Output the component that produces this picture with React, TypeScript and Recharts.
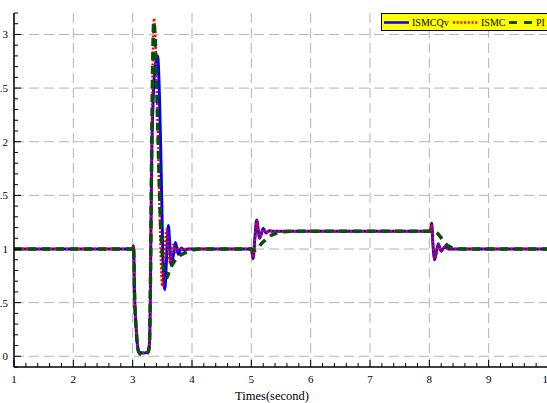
import { LineChart, Line, XAxis, YAxis, CartesianGrid, Label } from "recharts";

const xMajor = [1, 2, 3, 4, 5, 6, 7, 8, 9, 10];
const yMajor = [0, 0.5, 1, 1.5, 2, 2.5, 3];

// [time, value]
const ismcqv: [number, number][] = [
  [1, 1], [3.0, 1], [3.01, 1.03], [3.02, 0.95], [3.03, 0.62], [3.06, 0.25], [3.09, 0.07],
  [3.12, 0.035], [3.18, 0.03], [3.25, 0.04], [3.28, 0.1], [3.295, 0.4], [3.305, 1.0],
  [3.32, 1.8], [3.35, 2.45], [3.38, 2.7], [3.42, 2.8], [3.45, 2.45], [3.47, 2.0],
  [3.49, 1.45], [3.52, 0.72], [3.54, 0.62], [3.57, 0.9], [3.6, 1.22], [3.625, 1.05],
  [3.65, 0.85], [3.68, 0.92], [3.72, 1.06], [3.77, 0.95], [3.82, 1.01], [3.87, 0.99],
  [3.93, 1.0], [5.0, 1.0], [5.03, 0.91], [5.06, 1.1], [5.09, 1.27], [5.14, 1.1],
  [5.2, 1.19], [5.25, 1.15], [5.3, 1.17], [5.36, 1.165], [8.02, 1.165], [8.04, 1.24],
  [8.06, 1.05], [8.09, 0.9], [8.15, 1.05], [8.2, 0.98], [8.26, 1.02], [8.32, 1.0], [10, 1],
];

const ismc: [number, number][] = [
  [1, 1], [3.0, 1], [3.01, 1.03], [3.02, 0.95], [3.03, 0.62], [3.06, 0.25], [3.09, 0.07],
  [3.12, 0.035], [3.18, 0.03], [3.25, 0.04], [3.28, 0.1], [3.3, 0.8], [3.32, 1.9],
  [3.34, 2.8], [3.36, 3.15], [3.38, 3.0], [3.41, 2.4], [3.44, 1.7], [3.47, 1.0],
  [3.5, 0.65], [3.53, 0.85], [3.57, 1.18], [3.6, 1.02], [3.63, 0.87], [3.68, 1.04],
  [3.73, 0.97], [3.78, 1.01], [3.84, 1.0], [5.0, 1.0], [5.03, 0.92], [5.06, 1.1],
  [5.09, 1.26], [5.14, 1.1], [5.2, 1.18], [5.25, 1.15], [5.3, 1.17], [5.36, 1.165],
  [8.02, 1.165], [8.04, 1.23], [8.06, 1.05], [8.09, 0.91], [8.15, 1.04], [8.2, 0.98],
  [8.26, 1.02], [8.32, 1.0], [10, 1],
];

const pi: [number, number][] = [
  [1, 1], [3.0, 1], [3.01, 1.03], [3.02, 0.95], [3.03, 0.62], [3.06, 0.25], [3.09, 0.06],
  [3.13, 0.02], [3.19, 0.015], [3.25, 0.03], [3.28, 0.08], [3.3, 0.7], [3.32, 1.9],
  [3.34, 2.8], [3.355, 3.12], [3.38, 2.95], [3.42, 2.2], [3.46, 1.4], [3.5, 0.95],
  [3.54, 0.77], [3.57, 0.73], [3.62, 0.8], [3.71, 0.89], [3.8, 0.94], [3.91, 0.97],
  [4.0, 0.99], [4.15, 1.0], [5.0, 1.0], [5.05, 0.985], [5.1, 1.0], [5.17, 1.05],
  [5.25, 1.09], [5.33, 1.125], [5.43, 1.148], [5.55, 1.16], [5.7, 1.165], [8.08, 1.165],
  [8.13, 1.15], [8.19, 1.11], [8.27, 1.05], [8.35, 1.02], [8.45, 1.005], [8.6, 1.0], [10, 1],
];

const toRows = (pts: [number, number][]) => pts.map(([t, v]) => ({ t, v }));

const xTicks: number[] = [];
for (let i = 0; i <= 45; i++) xTicks.push(Math.round((1 + i * 0.2) * 10) / 10);
const yTicks: number[] = [];
for (let i = -1; i <= 32; i++) yTicks.push(Math.round(i) / 10);

const serif = "'Liberation Serif', 'Times New Roman', serif";
const isMajor = (v: number, list: number[]) => list.some((m) => Math.abs(m - v) < 1e-6);

const BottomTick = (props: any) => {
  const { x, y, payload } = props;
  const major = isMajor(payload.value, xMajor);
  return (
    <g>
      <line x1={x} y1={y} x2={x} y2={y - (major ? 7 : 4)} stroke="#000" />
      {major && (
        <text x={x} y={y + 16} textAnchor="middle" fontSize={11} fontFamily={serif} fill="#000">
          {payload.value}
        </text>
      )}
    </g>
  );
};

const TopTick = (props: any) => {
  const { x, y, payload } = props;
  const major = isMajor(payload.value, xMajor);
  return <line x1={x} y1={y} x2={x} y2={y + (major ? 7 : 4)} stroke="#000" />;
};

const LeftTick = (props: any) => {
  const { x, y, payload } = props;
  const major = isMajor(payload.value, yMajor);
  return (
    <g>
      <line x1={x} y1={y} x2={x + (major ? 7 : 4)} y2={y} stroke="#000" />
      {major && (
        <text x={x - 6} y={y + 4} textAnchor="end" fontSize={11} fontFamily={serif} fill="#000">
          {payload.value}
        </text>
      )}
    </g>
  );
};

const RightTick = (props: any) => {
  const { x, y, payload } = props;
  const major = isMajor(payload.value, yMajor);
  return <line x1={x} y1={y} x2={x - (major ? 7 : 4)} y2={y} stroke="#000" />;
};

const LegendBox = () => (
  <div
    style={{
      position: "absolute",
      left: 381,
      top: 13,
      width: 175,
      height: 16,
      background: "#ffff00",
      border: "1px solid #000",
    }}
  >
    <svg width={175} height={16} style={{ display: "block" }}>
      <line x1={2} y1={8.5} x2={27} y2={8.5} stroke="#0000ff" strokeWidth={2.5} />
      <text x={30} y={12} fontSize={10} fontFamily={serif}>ISMCQv</text>
      <line x1={71} y1={8.5} x2={96} y2={8.5} stroke="#ff0000" strokeWidth={2.5} strokeDasharray="2 1.7" />
      <text x={99} y={12} fontSize={10} fontFamily={serif}>ISMC</text>
      <line x1={127} y1={8.5} x2={151} y2={8.5} stroke="#0b4d0b" strokeWidth={3} strokeDasharray="8 7" />
      <text x={154} y={12} fontSize={10} fontFamily={serif}>PI</text>
    </svg>
  </div>
);

export default function App() {
  return (
    <div
      style={{
        position: "absolute",
        left: 0,
        top: 0,
        width: 547,
        height: 403,
        overflow: "hidden",
        background: "#fff",
      }}
    >
      <div style={{ position: "absolute", left: -26, top: 0 }}>
        <LineChart width={579} height={403} margin={{ top: 13, right: 5, bottom: 0, left: 0 }}>
          <CartesianGrid
            horizontalValues={yMajor}
            verticalValues={xMajor}
            stroke="#b4b4b4"
            strokeDasharray="10 5"
          />
          <XAxis
            dataKey="t"
            type="number"
            domain={[1, 10]}
            allowDataOverflow
            ticks={xTicks}
            interval={0}
            tickSize={0}
            tickMargin={0}
            tickLine={false}
            tick={<BottomTick />}
            height={36}
            axisLine={{ stroke: "#000", strokeWidth: 1.5 }}
          >
            <Label
              value="Times(second)"
              position="insideBottom"
              offset={3}
              dx={-9}
              style={{ fontSize: 12.5, fontFamily: serif, fill: "#000" }}
            />
          </XAxis>
          <XAxis
            xAxisId="top"
            orientation="top"
            type="number"
            domain={[1, 10]}
            allowDataOverflow
            ticks={xTicks}
            interval={0}
            tickSize={0}
            tickMargin={0}
            tickLine={false}
            tick={<TopTick />}
            height={0}
            axisLine={{ stroke: "#000", strokeWidth: 1.5 }}
          />
          <YAxis
            type="number"
            domain={[-0.1, 3.2]}
            allowDataOverflow
            ticks={yTicks}
            interval={0}
            tickSize={0}
            tickMargin={0}
            tickLine={false}
            tick={<LeftTick />}
            width={40}
            axisLine={{ stroke: "#000", strokeWidth: 1.5 }}
          />
          <YAxis
            yAxisId="right"
            orientation="right"
            type="number"
            domain={[-0.1, 3.2]}
            allowDataOverflow
            ticks={yTicks}
            interval={0}
            tickSize={0}
            tickMargin={0}
            tickLine={false}
            tick={<RightTick />}
            width={0}
            axisLine={{ stroke: "#000", strokeWidth: 1.5 }}
          />
          <Line
            data={toRows(ismcqv)}
            dataKey="v"
            type="monotone"
            stroke="#0000ff"
            strokeWidth={3}
            dot={false}
            isAnimationActive={false}
          />
          <Line
            data={toRows(ismc)}
            dataKey="v"
            type="monotone"
            stroke="#ff0000"
            strokeWidth={2.5}
            strokeDasharray="2 2"
            dot={false}
            isAnimationActive={false}
          />
          <Line
            data={toRows(pi)}
            dataKey="v"
            type="monotone"
            stroke="#0b4d0b"
            strokeWidth={3.5}
            strokeDasharray="8 6"
            dot={false}
            isAnimationActive={false}
          />
        </LineChart>
      </div>
      <LegendBox />
    </div>
  );
}
